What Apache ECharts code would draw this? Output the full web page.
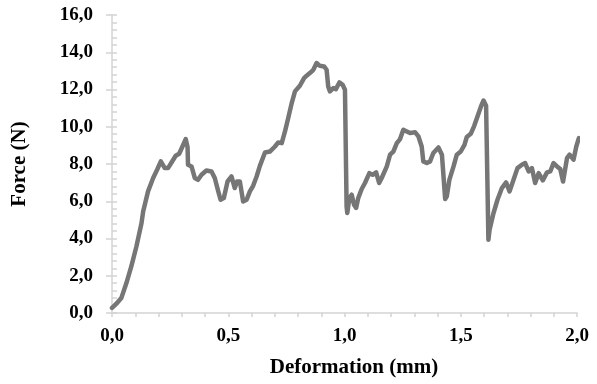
<!DOCTYPE html>
<html>
<head>
<meta charset="utf-8">
<script src="https://cdn.jsdelivr.net/npm/echarts@6/dist/echarts.min.js"></script>
<style>
  html, body { margin: 0; padding: 0; background: #fff; }
  #chart { width: 597px; height: 384px; }
</style>
</head>
<body>
<div id="chart"></div>
<script>
// deformation (mm)
const deformation = [
  0.000, 0.019, 0.040, 0.062, 0.083, 0.105, 0.127, 0.134, 0.155, 0.177,
  0.194, 0.210, 0.227, 0.241, 0.256, 0.274, 0.289, 0.303, 0.317, 0.325,
  0.327, 0.342, 0.356, 0.370, 0.385, 0.406, 0.428, 0.442, 0.457, 0.467,
  0.481, 0.497, 0.514, 0.528, 0.538, 0.550, 0.564, 0.579, 0.593, 0.607,
  0.622, 0.636, 0.658, 0.679, 0.701, 0.715, 0.730, 0.744, 0.758, 0.773,
  0.787, 0.808, 0.826, 0.837, 0.851, 0.866, 0.880, 0.894, 0.912, 0.923,
  0.930, 0.937, 0.952, 0.963, 0.978, 0.992, 1.002, 1.009, 1.012, 1.021,
  1.031, 1.041, 1.050, 1.059, 1.074, 1.088, 1.107, 1.121, 1.136, 1.149,
  1.160, 1.182, 1.196, 1.210, 1.225, 1.239, 1.253, 1.268, 1.282, 1.304,
  1.318, 1.332, 1.339, 1.354, 1.368, 1.382, 1.404, 1.419, 1.425, 1.433,
  1.440, 1.451, 1.469, 1.483, 1.500, 1.516, 1.526, 1.543, 1.558, 1.572,
  1.587, 1.598, 1.609, 1.619, 1.624, 1.641, 1.658, 1.677, 1.695, 1.710,
  1.727, 1.744, 1.763, 1.777, 1.792, 1.806, 1.820, 1.835, 1.853, 1.871,
  1.885, 1.899, 1.914, 1.928, 1.940, 1.957, 1.968, 1.985, 1.997, 2.008
];
// force (N)
const force = [
  0.27, 0.50, 0.80, 1.61, 2.50, 3.57, 4.83, 5.45, 6.53, 7.25,
  7.69, 8.14, 7.78, 7.78, 8.08, 8.44, 8.55, 8.94, 9.34, 8.90,
  7.96, 7.87, 7.25, 7.15, 7.42, 7.65, 7.60, 7.25, 6.53, 6.08,
  6.17, 7.06, 7.33, 6.71, 7.06, 7.06, 5.99, 6.08, 6.53, 6.83,
  7.33, 7.90, 8.62, 8.67, 8.94, 9.16, 9.12, 9.75, 10.47, 11.27,
  11.90, 12.20, 12.61, 12.74, 12.88, 13.06, 13.42, 13.27, 13.24, 13.06,
  12.16, 11.90, 12.08, 12.02, 12.38, 12.25, 11.99, 5.72, 5.37, 6.17,
  6.35, 5.81, 5.64, 6.17, 6.66, 6.98, 7.51, 7.42, 7.55, 6.98,
  7.25, 7.87, 8.50, 8.67, 9.12, 9.34, 9.84, 9.75, 9.66, 9.70,
  9.48, 8.94, 8.14, 8.05, 8.14, 8.59, 8.89, 8.50, 8.50, 6.12,
  6.26, 7.15, 7.87, 8.50, 8.67, 9.03, 9.45, 9.62, 10.05, 10.55,
  11.09, 11.41, 11.13, 3.93, 4.47, 5.37, 6.08, 6.71, 7.01, 6.53,
  7.15, 7.78, 7.96, 8.05, 7.60, 7.78, 6.98, 7.51, 7.12, 7.55,
  7.60, 8.05, 7.87, 7.73, 7.06, 8.32, 8.50, 8.23, 8.94, 9.39
];

const fmt = v => v.toFixed(1).replace('.', ',');
const font = '"Liberation Serif", "Times New Roman", serif';
const axisGray = '#d4d4d4';

const chart = echarts.init(document.getElementById('chart'));
const option = {
  animation: false,
  grid: { left: 112, right: 20, top: 15, bottom: 71 },
  xAxis: {
    type: 'value',
    min: 0,
    max: 2,
    interval: 0.5,
    name: 'Deformation (mm)',
    nameLocation: 'middle',
    nameGap: 44,
    nameTextStyle: { fontFamily: font, fontWeight: 'bold', fontSize: 21, color: '#000', padding: [0, 0, 0, 19] },
    axisLine: { show: true, lineStyle: { color: axisGray, width: 1.5 } },
    axisTick: { show: true, length: 4, lineStyle: { color: axisGray, width: 1.5 } },
    minorTick: { show: true, splitNumber: 5, length: 4, lineStyle: { color: axisGray, width: 1.5 } },
    splitLine: { show: false },
    axisLabel: { formatter: fmt, fontFamily: font, fontWeight: 'bold', fontSize: 19, color: '#000', margin: 14 }
  },
  yAxis: [
    {
      type: 'value',
      min: 0,
      max: 16,
      interval: 2,
      name: 'Force (N)',
      nameLocation: 'middle',
      nameGap: 82,
      nameRotate: 90,
      nameTextStyle: { fontFamily: font, fontWeight: 'bold', fontSize: 21, color: '#000' },
      axisLine: { show: true, lineStyle: { color: axisGray, width: 1.5 } },
      axisTick: { show: true, inside: true, length: 5, lineStyle: { color: axisGray, width: 1.5 } },
      minorTick: { show: true, splitNumber: 5, length: 5, lineStyle: { color: axisGray, width: 1.5 } },
      splitLine: { show: false },
      axisLabel: { formatter: fmt, fontFamily: font, fontWeight: 'bold', fontSize: 19, color: '#000', margin: 19 }
    },
    {
      // outer half of the major ticks
      type: 'value',
      position: 'left',
      min: 0,
      max: 16,
      interval: 2,
      axisLine: { show: false },
      axisTick: { show: true, length: 6, lineStyle: { color: axisGray, width: 1.5 } },
      splitLine: { show: false },
      axisLabel: { show: false }
    }
  ],
  series: [
    {
      type: 'line',
      data: deformation.map((d, i) => [d, force[i]]),
      showSymbol: false,
      lineStyle: { color: '#767676', width: 4.5, join: 'round', cap: 'round' },
      itemStyle: { color: '#767676' }
    }
  ]
};
option && chart.setOption(option);
</script>
</body>
</html>
